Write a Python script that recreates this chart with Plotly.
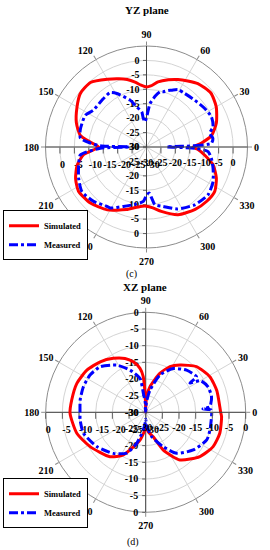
import plotly.graph_objects as go

# ---------------- data (dB vs angle in degrees) ----------------
yz_sim_theta = [0, 4, 10, 19, 30, 40, 51, 58, 65, 72, 80, 86, 90, 95, 100, 106, 112, 120, 131, 141,
                150, 161, 170, 175, 180, 187, 195, 204, 213, 225, 238, 252, 264, 270, 276, 283,
                295, 308, 318, 327, 336, 345, 352, 357, 360]
yz_sim_r = [-13.9, -11.0, -7.1, -4.4, -2.1, -0.9, -1.7, -3.0, -4.2, -5.5, -7.1, -8.8, -9.2, -8.5, -7.2, -5.7,
            -4.5, -2.9, -0.4, -0.5, -2.2, -4.3, -6.7, -10.4, -13.4, -8.0, -5.1, -3.1, -1.9, -2.5, -4.3,
            -7.2, -9.3, -9.5, -8.8, -7.1, -4.1, -2.6, -1.9, -1.8, -3.5, -6.1, -9.6, -12.0, -13.9]

yz_mea_theta = [0, 1.5, 3.2, 7.4, 12.2, 16.9, 24.9, 33.5, 44.1, 54.4, 61.1, 66.2, 69, 73.1, 76.3, 80,
                85.4, 87.2, 93.4, 96.4, 97.7, 103.7, 109.3, 119, 124, 133.6, 145.2, 152.5, 160, 165.7,
                172.5, 176, 178.5, 180, 181.5, 186.9, 194.8, 204.7, 214.6, 225.8, 236.3, 239.2, 248.8,
                259.7, 266.7, 270.2, 273.5, 275.8, 278.3, 285.7, 296.5, 309.9, 322.2, 332.6, 342.3,
                350.2, 355.7, 358.5, 360]
yz_mea_r = [-23.0, -13.3, -7.5, -6.8, -7.6, -5.9, -5.2, -5.8, -6.7, -7.2, -7.3, -8.5, -9.0, -10.0, -10.3,
            -12.0, -14.9, -17.2, -21.3, -20.0, -17.7, -15.7, -12.8, -8.8, -7.3, -7.6, -7.6, -6.1, -6.2,
            -6.3, -6.9, -10.5, -14.0, -24.0, -14.0, -6.9, -5.7, -4.1, -2.8, -3.7, -5.3, -5.4, -7.9, -9.9,
            -11.1, -13.4, -14.0, -12.2, -9.8, -8.6, -6.0, -3.9, -3.0, -4.0, -5.8, -7.2, -8.6, -13.0, -23.0]

xz_sim_theta = [0, 4, 17, 29, 42, 54, 62, 70, 80.5, 86, 89, 90, 91, 93.9, 97.4, 103.8, 111, 121, 132,
                144.4, 157.2, 170.6, 180.8, 196.9, 211.7, 231.2, 242.3, 258.4, 265, 270, 278, 287, 295,
                305.7, 320.7, 333, 344.2, 356.7, 360]
xz_sim_r = [-7.5, -7.7, -7.7, -8.0, -9.5, -12.5, -14.5, -17.6, -22.2, -25.0, -28.0, -30.0, -27.0, -19.3,
            -16.7, -14.4, -12.7, -11.1, -9.6, -8.3, -7.6, -7.5, -7.3, -8.4, -10.4, -12.9, -15.6, -21.5,
            -24.0, -25.5, -24.0, -22.3, -17.5, -12.4, -9.0, -7.3, -6.9, -7.2, -7.5]

xz_mea_theta = [0, 2, 3.5, 5, 13.3, 22.2, 30, 33.5, 35, 45.9, 57.9, 69, 79, 86, 90, 93, 97, 99.5, 110.4,
                121.5, 135, 146.2, 157.7, 169.4, 180, 186.7, 198.6, 215, 231.7, 245.1, 253.8, 262, 268,
                270, 274, 283.8, 297, 307, 321.6, 335.6, 344.6, 356.2, 360]
xz_mea_r = [-10.2, -10.3, -12.8, -10.7, -9.7, -9.8, -11.0, -14.1, -11.4, -12.4, -14.5, -18.0, -23.2, -27.0,
            -30.0, -27.0, -24.3, -19.7, -16.5, -13.4, -10.7, -9.9, -9.8, -10.0, -10.3, -10.2, -10.3,
            -12.1, -14.3, -16.5, -20.3, -24.6, -27.0, -28.0, -26.0, -22.5, -18.4, -14.6, -11.8, -9.9,
            -10.0, -10.2, -10.2]

angle_ticks = [0, 30, 60, 90, 120, 150, 180, 210, 240, 270, 300, 330]
radial_ticks = [-30, -25, -20, -15, -10, -5, 0]
radial_labels = ["-30", "-25", "-20", "-15", "-10", "-5", "0"]
series_names = ["Simulated", "Measured"]
panel_titles = ["YZ plane", "XZ plane"]
panel_captions = ["(c)", "(d)"]

# ---------------- styling ----------------
FONT = "Liberation Serif"
RED = "#ff0000"
BLUE = "#0000ff"
GRID = "#d4d4d4"
W, H = 270, 550


def dom(cx, cy, rad):
    return dict(x=[(cx - rad) / W, (cx + rad) / W], y=[(H - cy - rad) / H, (H - cy + rad) / H])


fig = go.Figure()

panels = [
    dict(cx=146.5, cy=147, rad=101, rng=[-30, 5], base=1,
         sim=(yz_sim_theta, yz_sim_r), mea=(yz_mea_theta, yz_mea_r), legend="legend"),
    dict(cx=145.7, cy=412.3, rad=100, rng=[-30, 0], base=5,
         sim=(xz_sim_theta, xz_sim_r), mea=(xz_mea_theta, xz_mea_r), legend="legend2"),
]

# radial axis directions drawn on each panel: (angle, tickangle, side, ticklen)
axis_dirs = [(90, 90, "counterclockwise", 3), (180, 180, "counterclockwise", 6),
             (270, -90, "clockwise", 3), (0, 0, "clockwise", 6)]

for p in panels:
    d = dom(p["cx"], p["cy"], p["rad"])
    for k, (ang, tang, side, tlen) in enumerate(axis_dirs):
        pid = p["base"] + k
        name = "polar" if pid == 1 else f"polar{pid}"
        first = (k == 0)
        layout_polar = dict(
            domain=d,
            bgcolor="rgba(0,0,0,0)",
            radialaxis=dict(
                range=p["rng"], tickvals=radial_ticks, ticktext=radial_labels,
                angle=ang, tickangle=tang, side=side,
                showgrid=first, gridcolor=GRID, gridwidth=1,
                showline=True, linecolor="#404040", linewidth=1,
                ticks="outside", ticklen=tlen, tickcolor="#606060",
                tickfont=dict(family=FONT, size=10, color="black", weight="bold"),
            ),
            angularaxis=dict(
                visible=first, rotation=0, direction="counterclockwise",
                tickvals=angle_ticks, ticktext=[str(a) for a in angle_ticks],
                showgrid=True, gridcolor=GRID, gridwidth=1,
                showline=True, linecolor="#8c8c8c", linewidth=1,
                ticks="outside", ticklen=4, tickcolor="#8c8c8c",
                tickfont=dict(family=FONT, size=10, color="black", weight="bold"),
            ),
        )
        fig.update_layout({name: layout_polar})
        if k < 3:
            fig.add_trace(go.Scatterpolar(r=[None], theta=[None], subplot=name,
                                          showlegend=False, hoverinfo="skip", mode="lines"))
    top = f"polar{p['base'] + 3}"
    fig.add_trace(go.Scatterpolar(
        r=p["sim"][1], theta=p["sim"][0], subplot=top, mode="lines", name=series_names[0],
        line=dict(color=RED, width=3, shape="spline", smoothing=0.6), legend=p["legend"]))
    fig.add_trace(go.Scatterpolar(
        r=p["mea"][1], theta=p["mea"][0], subplot=top, mode="lines", name=series_names[1],
        line=dict(color=BLUE, width=3, dash="dashdot", shape="spline", smoothing=0.6),
        legend=p["legend"]))

legend_style = dict(
    xanchor="left", yanchor="middle", bgcolor="white", bordercolor="black", borderwidth=1,
    font=dict(family=FONT, size=8.5, color="black", weight="bold"), tracegroupgap=0,
    itemwidth=30,
)


def note(text, x, y, size, bold):
    font = dict(family=FONT, size=size, color="black")
    if bold:
        font["weight"] = "bold"
    return dict(text=text, x=x / W, y=(H - y) / H, xref="paper", yref="paper",
                xanchor="center", yanchor="middle", showarrow=False, font=font)


fig.update_layout(
    width=W, height=H, autosize=False,
    margin=dict(l=0, r=0, t=0, b=0),
    template="none",
    paper_bgcolor="white", plot_bgcolor="white",
    showlegend=True,
    legend=dict(x=3 / W, y=(H - 235.3) / H, **legend_style),
    legend2=dict(x=3 / W, y=(H - 503.3) / H, **legend_style),
    annotations=[
        note(panel_titles[0], 147, 10, 11, True),
        note(panel_captions[0], 131.7, 274, 10, False),
        note(panel_titles[1], 145, 286.7, 11, True),
        note(panel_captions[1], 133, 541.7, 10, False),
    ],
)

fig.write_html("out.html",
               config={"displayModeBar": False},
               post_script="document.body.style.margin='0';document.body.style.overflow='hidden';")
